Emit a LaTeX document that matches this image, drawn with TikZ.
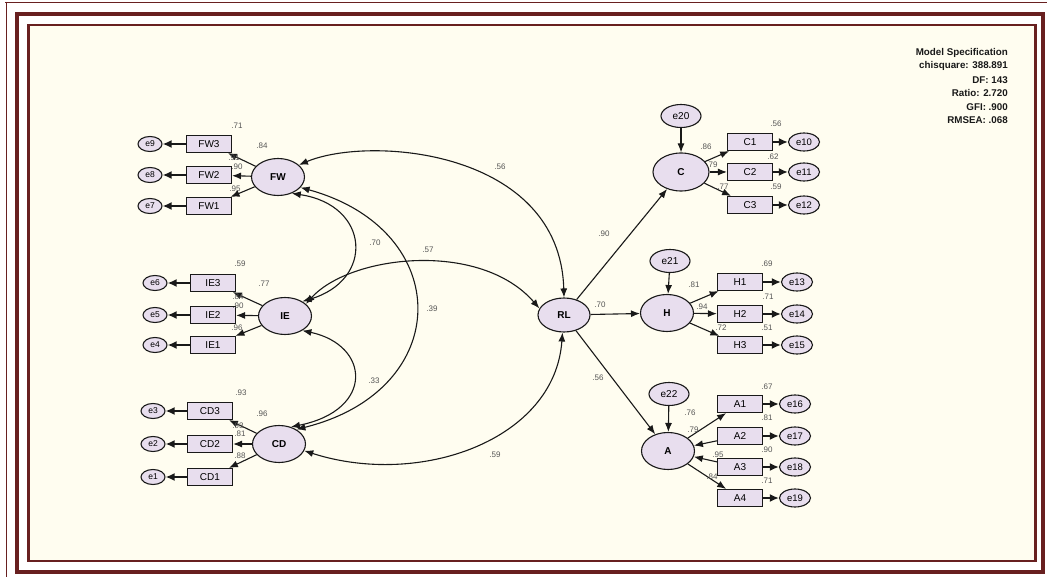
\documentclass[tikz,border=0pt]{standalone}
\usepackage{fontspec}
\setmainfont{Liberation Sans}
\usetikzlibrary{shapes.geometric,arrows.meta}
\definecolor{maroon}{RGB}{104,32,32}
\definecolor{paper}{RGB}{255,253,240}
\definecolor{lav}{RGB}{232,222,238}
\definecolor{ink}{RGB}{25,25,25}
\definecolor{numc}{RGB}{85,85,85}

\begin{document}
\begin{tikzpicture}[x=1pt,y=-1pt,
  lat/.style={ellipse,draw=ink,line width=1.1pt,fill=lav,minimum width=53pt,minimum height=37pt,inner sep=0pt,font=\fontsize{10}{10}\selectfont\bfseries},
  ind/.style={rectangle,draw=ink,line width=1.1pt,fill=lav,minimum width=45pt,minimum height=17pt,inner sep=0pt,font=\fontsize{10}{10}\selectfont},
  errl/.style={ellipse,draw=ink,line width=1.1pt,fill=lav,minimum width=24pt,minimum height=15pt,inner sep=0pt,font=\fontsize{8.5}{8.5}\selectfont},
  errr/.style={errl,minimum width=31pt,minimum height=18pt,font=\fontsize{9.5}{9.5}\selectfont},
  errt/.style={errl,minimum width=40pt,minimum height=23pt,font=\fontsize{10}{10}\selectfont},
  num/.style={font=\fontsize{8}{8}\selectfont,text=numc,inner sep=0pt},
  load/.style={draw=ink,line width=1.1pt,-{Latex[length=9pt,width=7pt]}},
  errlink/.style={draw=ink,line width=2pt,{Latex[length=9pt,width=8pt]}-},
  cov/.style={draw=ink,line width=1.1pt,{Latex[length=9pt,width=7pt]}-{Latex[length=9pt,width=7pt]}},
  spec/.style={font=\fontsize{9.8}{9.8}\selectfont\bfseries,text=ink,inner sep=0pt,anchor=east}
]
\useasboundingbox (0,0) rectangle (1047,577);

% page frame
\fill[white] (0,0) rectangle (1047,577);
\draw[maroon,line width=1.3pt] (5,2.5) -- (1047,2.5);
\draw[maroon,line width=1.5pt] (6.5,2) -- (6.5,577);
\draw[maroon,line width=4pt] (17,14) rectangle (1043,572);
\draw[maroon,line width=2.5pt,fill=paper] (28.5,25) rectangle (1035.5,561);

% ---------- FW ----------
\node[lat] (FW) at (278,177) {FW};
\node[ind] (FW3) at (209,144) {FW3};
\node[ind] (FW2) at (209,175) {FW2};
\node[ind] (FW1) at (209,206) {FW1};
\node[errl] (e9) at (150,144) {e9};
\node[errl] (e8) at (150,175) {e8};
\node[errl] (e7) at (150,206) {e7};

% ---------- IE ----------
\node[lat] (IE) at (285,316) {IE};
\node[ind] (IE3) at (213,283) {IE3};
\node[ind] (IE2) at (213,315) {IE2};
\node[ind] (IE1) at (213,345) {IE1};
\node[errl] (e6) at (155,283) {e6};
\node[errl] (e5) at (155,315) {e5};
\node[errl] (e4) at (155,345) {e4};

% ---------- CD ----------
\node[lat] (CD) at (279,444) {CD};
\node[ind] (CD3) at (210,411) {CD3};
\node[ind] (CD2) at (210,444) {CD2};
\node[ind] (CD1) at (210,477) {CD1};
\node[errl] (e3) at (153,411) {e3};
\node[errl] (e2) at (153,444) {e2};
\node[errl] (e1) at (153,477) {e1};

% ---------- RL ----------
\node[lat,minimum width=52pt,minimum height=34pt] (RL) at (564,315) {RL};

% ---------- C ----------
\node[lat,minimum width=56pt,minimum height=38pt] (C) at (681,172) {C};
\node[errt] (e20) at (681,116) {e20};
\node[ind] (C1) at (750,142) {C1};
\node[ind] (C2) at (750,172) {C2};
\node[ind] (C3) at (750,205) {C3};
\node[errr] (e10) at (804,142) {e10};
\node[errr] (e11) at (804,172) {e11};
\node[errr] (e12) at (804,205) {e12};

% ---------- H ----------
\node[lat] (H) at (667,313) {H};
\node[errt] (e21) at (670,261) {e21};
\node[ind] (H1) at (740,282) {H1};
\node[ind] (H2) at (740,314) {H2};
\node[ind] (H3) at (740,345) {H3};
\node[errr] (e13) at (797,282) {e13};
\node[errr] (e14) at (797,314) {e14};
\node[errr] (e15) at (797,345) {e15};

% ---------- A ----------
\node[lat] (A) at (668,451) {A};
\node[errt] (e22) at (669,394) {e22};
\node[ind] (A1) at (740,404) {A1};
\node[ind] (A2) at (740,436) {A2};
\node[ind] (A3) at (740,467) {A3};
\node[ind] (A4) at (740,498) {A4};
\node[errr] (e16) at (795,404) {e16};
\node[errr] (e17) at (795,436) {e17};
\node[errr] (e18) at (795,467) {e18};
\node[errr] (e19) at (795,498) {e19};

% measurement paths
\foreach \f/\i in {FW/FW3,FW/FW2,FW/FW1,IE/IE3,IE/IE2,IE/IE1,CD/CD3,CD/CD2,CD/CD1,
                   C/C1,C/C2,C/C3,H/H1,H/H2,H/H3,A/A1,A/A4}
  \draw[load] (\f) -- (\i);
\draw[load] (A2) -- (A);
\draw[load] (A3) -- (A);

% error terms
\foreach \e/\i in {e9/FW3,e8/FW2,e7/FW1,e6/IE3,e5/IE2,e4/IE1,e3/CD3,e2/CD2,e1/CD1,
                   e10/C1,e11/C2,e12/C3,e13/H1,e14/H2,e15/H3,e16/A1,e17/A2,e18/A3,e19/A4}
  \draw[errlink] (\e) -- (\i);
\draw[load] (e20) -- (C);
\draw[load] (e21) -- (H);
\draw[load] (e22) -- (A);

% structural paths
\draw[load] (RL) -- (C);
\draw[load] (RL) -- (H);
\draw[load] (RL) -- (A);

% covariances
\draw[cov] (FW.30) .. controls (370,135) and (560,150) .. (RL.north);
\draw[cov] (FW.-50) .. controls (370,205) and (375,280) .. (IE.40);
\draw[cov] (FW.-25) .. controls (455,230) and (455,390) .. (CD.40);
\draw[cov] (IE.30) .. controls (350,255) and (480,240) .. (RL.165);
\draw[cov] (IE.-40) .. controls (370,345) and (375,410) .. (CD.55);
\draw[cov] (CD.-15) .. controls (420,488) and (555,440) .. (RL.-95);

% estimates
\foreach \x/\y/\t in {237/126/.71, 262/146/.84, 234/158/.91, 237/167/.90, 235/189/.95,
                      240/264/.59, 264/284/.77, 238/297/.84, 238/306/.90, 237/328/.96,
                      241/393/.93, 262/414/.96, 238/426/.93, 240/434/.81, 240/456/.88,
                      776/124/.56, 706/147/.86, 773/157/.62, 712/165/.79, 723/187/.77, 776/187/.59,
                      767/264/.69, 694/285/.81, 768/297/.71, 702/307/.94, 721/328/.72, 767/328/.51,
                      767/387/.67, 690/413/.76, 693/430/.79, 767/418/.81, 767/450/.90, 718/455/.95,
                      712/477/.84, 767/481/.71,
                      604/234/.90, 600/305/.70, 598/378/.56,
                      500/167/.56, 375/243/.70, 428/250/.57, 432/309/.39, 374/381/.33, 495/455/.59}
  \node[num] at (\x,\y) {\t};

% fit summary
\node[spec] (s1) at (1008,53) {Model Specification};
\node[spec] (s2) at (1008,66) {chisquare: 388.891};
\node[spec] (s3) at (1008,80) {DF: 143};
\node[spec] (s4) at (1008,93) {Ratio: 2.720};
\node[spec] (s5) at (1008,107) {GFI: .900};
\node[spec] (s6) at (1008,120) {RMSEA: .068};
\end{tikzpicture}
\end{document}
